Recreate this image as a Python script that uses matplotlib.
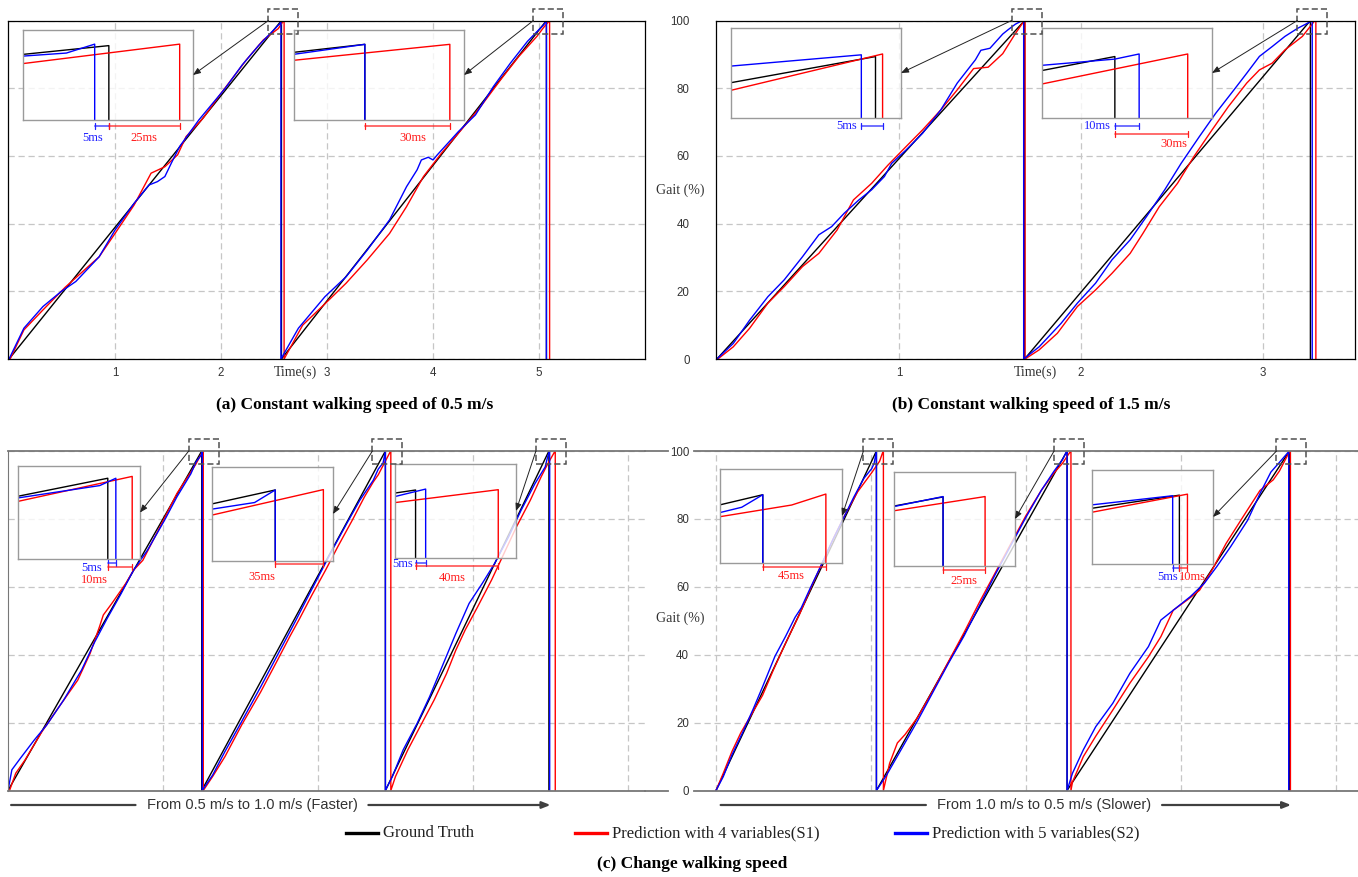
import matplotlib
matplotlib.use("Agg")
import matplotlib.pyplot as plt
from matplotlib.patches import Rectangle, FancyArrowPatch
from matplotlib.lines import Line2D
from matplotlib.transforms import IdentityTransform, blended_transform_factory, offset_copy

plt.rcParams['font.family'] = ['Liberation Sans', 'DejaVu Sans']
SERIF = ['Liberation Serif', 'DejaVu Serif']

# ---- data: time (s), gait (%) ----
# (a) constant 0.5 m/s
black_a_t = [0.0, 2.57, 2.57, 5.07, 5.07]
black_a_y = [0, 100, 0, 100, 0]
red_a_t = [0.01, 0.14, 0.32, 0.53, 0.85, 1.00, 1.18, 1.34, 1.47, 1.59, 1.67, 1.83, 2.00, 2.24, 2.40, 2.54, 2.595, 2.595,
           2.77, 3.00, 3.18, 3.38, 3.59, 3.75, 3.91, 4.08, 4.28, 4.45, 4.65, 4.81, 4.98, 5.045, 5.10, 5.10]
red_a_y = [0, 8.6, 14.5, 21.2, 30.2, 37.1, 45.5, 54.9, 56.8, 60.3, 65.7, 71.1, 78.5, 88.4, 94.3, 97.6, 100.2, 0,
           10.0, 16.9, 22.4, 29.3, 37.1, 45.0, 53.9, 60.8, 68.2, 74.6, 83.0, 89.4, 95.3, 98.0, 100.0, 0]
blue_a_t = [0.0, 0.14, 0.32, 0.49, 0.63, 0.85, 1.00, 1.18, 1.32, 1.40, 1.47, 1.53, 1.61, 1.79, 2.04, 2.20, 2.36, 2.54, 2.555, 2.565, 2.565,
            2.73, 2.98, 3.18, 3.38, 3.59, 3.75, 3.85, 3.89, 3.955, 4.00, 4.04, 4.24, 4.40, 4.57, 4.73, 4.89, 4.98, 5.045, 5.07, 5.07]
blue_a_y = [0, 9.1, 15.5, 19.9, 22.9, 30.2, 38.1, 46.0, 51.4, 52.4, 53.9, 57.8, 62.8, 70.6, 80.0, 86.9, 92.8, 98.6, 99.0, 100.2, 0,
            9.1, 18.4, 24.3, 32.2, 41.1, 50.9, 55.9, 58.8, 59.6, 58.8, 60.3, 67.2, 72.1, 80.5, 87.4, 93.8, 96.7, 98.75, 100.0, 0]

# (b) constant 1.5 m/s
black_b_t = [0.0, 1.69, 1.69, 3.26, 3.26]
black_b_y = [0, 100, 0, 100, 0]
red_b_t = [0.005, 0.09, 0.18, 0.28, 0.37, 0.47, 0.56, 0.66, 0.75, 0.85, 0.94, 1.04, 1.13, 1.23, 1.32, 1.41, 1.49, 1.57, 1.639, 1.6925, 1.6925,
           1.77, 1.87, 1.98, 2.08, 2.17, 2.27, 2.34, 2.43, 2.53, 2.62, 2.72, 2.81, 2.91, 2.98, 3.05, 3.12, 3.216, 3.23, 3.29, 3.29]
red_b_y = [0, 3.6, 9.1, 16.5, 21.4, 27.3, 31.2, 38.1, 47.0, 51.9, 57.3, 62.8, 67.7, 73.6, 79.5, 85.8, 86.2, 90.2, 96.1, 100.3, 0,
           2.7, 7.6, 15.5, 20.4, 25.3, 31.2, 37.1, 45.0, 51.9, 59.8, 67.7, 74.6, 81.5, 85.4, 87.4, 91.3, 95.3, 96.25, 100.35, 0]
blue_b_t = [0.0, 0.09, 0.18, 0.28, 0.37, 0.47, 0.56, 0.63, 0.70, 0.78, 0.85, 0.92, 0.96, 1.04, 1.13, 1.23, 1.32, 1.42, 1.45, 1.50, 1.57, 1.60, 1.639, 1.685, 1.685,
            1.77, 1.89, 1.98, 2.08, 2.17, 2.27, 2.36, 2.46, 2.55, 2.65, 2.74, 2.84, 2.91, 2.98, 3.05, 3.12, 3.19, 3.23, 3.26, 3.27, 3.27]
blue_b_y = [0, 4.6, 11.5, 18.4, 23.4, 30.2, 36.7, 39.1, 43.1, 47.0, 50.0, 53.9, 57.8, 61.8, 66.7, 73.6, 81.5, 88.4, 91.2, 91.8, 96.0, 97.3, 98.9, 100.2, 0,
            3.6, 10.5, 16.5, 22.4, 29.3, 35.2, 42.1, 50.0, 57.8, 65.7, 72.6, 79.5, 84.4, 89.4, 92.3, 95.3, 97.7, 98.8, 99.65, 100.35, 0]

# (c) left: 0.5 -> 1.0 m/s
black_c_t = [0.0, 1.25, 1.25, 2.435, 2.435, 3.49, 3.49]
black_c_y = [0, 100, 0, 100, 0, 100, 0]
red_c_t = [0.01, 0.05, 0.11, 0.22, 0.33, 0.45, 0.53, 0.59, 0.615, 0.67, 0.76, 0.81, 0.87, 0.98, 1.09, 1.18, 1.213, 1.26, 1.26,
           1.32, 1.40, 1.51, 1.63, 1.74, 1.82, 1.88, 1.96, 2.05, 2.13, 2.22, 2.30, 2.357, 2.389, 2.47, 2.47,
           2.50, 2.58, 2.67, 2.75, 2.83, 2.89, 2.95, 3.03, 3.12, 3.20, 3.28, 3.37, 3.44, 3.48, 3.531, 3.531]
red_c_y = [0, 5.1, 9.0, 17.4, 24.7, 32.5, 40.4, 48.2, 51.7, 55.1, 61.0, 64.9, 67.8, 77.6, 87.5, 93.8, 96.2, 100.3, 0,
           4.1, 10.0, 19.5, 29.0, 38.5, 45.5, 50.5, 57.5, 65.0, 72.0, 79.5, 86.5, 90.9, 93.0, 100.1, 0,
           4.1, 12.0, 19.8, 26.7, 34.5, 41.4, 47.3, 54.1, 62.0, 69.8, 77.6, 85.5, 92.4, 96.0, 100.1, 0]
blue_c_t = [0.0, 0.025, 0.08, 0.17, 0.25, 0.36, 0.475, 0.56, 0.64, 0.73, 0.81, 0.90, 1.01, 1.09, 1.18, 1.213, 1.2467, 1.2533, 1.2533,
            1.32, 1.40, 1.51, 1.63, 1.74, 1.85, 1.94, 2.02, 2.10, 2.19, 2.27, 2.357, 2.389, 2.42, 2.435, 2.435,
            2.48, 2.55, 2.64, 2.72, 2.81, 2.89, 2.975, 3.06, 3.14, 3.23, 3.31, 3.40, 3.466, 3.48, 3.495, 3.495]
blue_c_y = [0, 6.1, 9.5, 14.9, 19.3, 26.7, 35.5, 43.8, 50.7, 58.0, 64.9, 70.8, 79.6, 86.5, 93.3, 96.77, 98.8, 100.0, 0,
            4.5, 11.5, 20.5, 30.5, 40.0, 49.5, 57.5, 64.5, 71.5, 79.0, 85.5, 91.4, 94.66, 96.5, 100.0, 0,
            4.1, 12.0, 19.8, 27.6, 37.5, 46.3, 55.1, 61.0, 66.9, 74.7, 82.5, 90.4, 95.3, 97.95, 100.3, 0]

# (c) right: 1.0 -> 0.5 m/s
black_d_t = [0.0, 1.035, 1.035, 2.265, 2.265, 3.70, 3.70]
black_d_y = [0, 100, 0, 100, 0, 100, 0]
red_d_t = [0.0, 0.047, 0.103, 0.16, 0.23, 0.30, 0.37, 0.45, 0.54, 0.62, 0.69, 0.76, 0.83, 0.914, 1.0045, 1.0556, 1.08, 1.08,
           1.12, 1.17, 1.22, 1.30, 1.40, 1.50, 1.60, 1.70, 1.80, 1.90, 2.00, 2.10, 2.18, 2.2358, 2.29, 2.29,
           2.30, 2.37, 2.45, 2.56, 2.67, 2.79, 2.87, 2.95, 3.04, 3.12, 3.20, 3.29, 3.40, 3.51, 3.595, 3.635, 3.706, 3.706]
red_d_y = [0, 5.1, 11.5, 17.0, 22.5, 28.0, 35.5, 43.5, 52.0, 60.5, 67.5, 74.5, 81.0, 88.0, 93.6, 97.0, 100.2, 0,
           8.0, 14.0, 16.5, 21.5, 29.5, 38.0, 46.5, 55.5, 64.0, 72.5, 81.0, 88.5, 93.5, 96.4, 100.1, 0,
           2.5, 10.0, 16.0, 23.7, 31.6, 39.4, 45.3, 53.1, 56.1, 59.0, 64.9, 72.7, 80.6, 88.4, 91.5, 94.1, 100.35, 0]
blue_d_t = [0.0, 0.047, 0.103, 0.17, 0.24, 0.30, 0.34, 0.38, 0.45, 0.51, 0.55, 0.61, 0.68, 0.75, 0.82, 0.89, 0.955, 1.0045, 1.02, 1.035, 1.035,
            1.10, 1.20, 1.30, 1.40, 1.50, 1.60, 1.70, 1.80, 1.90, 2.00, 2.10, 2.18, 2.2358, 2.265, 2.265,
            2.30, 2.37, 2.45, 2.56, 2.67, 2.79, 2.87, 2.95, 3.06, 3.15, 3.23, 3.32, 3.43, 3.51, 3.58, 3.635, 3.695, 3.695]
blue_d_y = [0, 4.1, 10.5, 16.9, 24.0, 30.5, 35.0, 39.5, 45.5, 51.0, 53.8, 59.8, 66.5, 73.5, 80.0, 86.5, 92.0, 94.8, 96.35, 100, 0,
            4.5, 12.5, 20.5, 29.0, 37.5, 45.5, 54.5, 63.5, 72.0, 80.5, 88.5, 94.0, 97.5, 100.1, 0,
            5.1, 12.0, 18.8, 25.7, 34.5, 42.4, 50.2, 53.1, 57.1, 61.0, 65.9, 71.8, 79.6, 87.5, 93.8, 96.65, 99.8, 0]

legend_labels = ['Ground Truth', 'Prediction with 4 variables(S1)', 'Prediction with 5 variables(S2)']
titles = ['(a) Constant walking speed of 0.5 m/s', '(b) Constant walking speed of 1.5 m/s', '(c) Change walking speed']
speed_notes = ['From 0.5 m/s to 1.0 m/s (Faster)', 'From 1.0 m/s to 0.5 m/s (Slower)']
y_ticks = [0, 20, 40, 60, 80, 100]

panels = {
    'a': {'black': (black_a_t, black_a_y), 'red': (red_a_t, red_a_y), 'blue': (blue_a_t, blue_a_y)},
    'b': {'black': (black_b_t, black_b_y), 'red': (red_b_t, red_b_y), 'blue': (blue_b_t, blue_b_y)},
    'c': {'black': (black_c_t, black_c_y), 'red': (red_c_t, red_c_y), 'blue': (blue_c_t, blue_c_y)},
    'd': {'black': (black_d_t, black_d_y), 'red': (red_d_t, red_d_y), 'blue': (blue_d_t, blue_d_y)},
}

COLORS = {'black': '#000000', 'red': '#ff0000', 'blue': '#0000ff'}
ORDER = ['black', 'red', 'blue']

W, H = 1358, 877
fig = plt.figure(figsize=(W / 100, H / 100), dpi=100)


def box(left, top, w, h):
    # pixel box (from top-left) -> figure fraction
    return [left / W, 1 - (top + h) / H, w / W, h / H]


def drops(t, y):
    # times where a series falls from its peak back to 0
    return [t[i] for i in range(len(t) - 1) if y[i] > 50 and y[i + 1] == 0]


def draw_series(ax, series):
    for name in ORDER:
        t, y = series[name]
        ax.plot(t, y, color=COLORS[name], lw=1.0)


main_pos = {'a': (8, 20.5, 637, 338.5), 'b': (716, 20.5, 639, 338.5),
            'c': (8, 451, 637, 339.5), 'd': (694, 451, 664, 339.5)}
main_xlim = {'a': (-0.01, 6.0), 'b': (-0.005, 3.505), 'c': (0, 4.11), 'd': (-0.142, 4.142)}
main_xgrid = {'a': [1, 2, 3, 4, 5], 'b': [1, 2, 3], 'c': [1, 2, 3, 4], 'd': [0, 1, 2, 3, 4]}

axes = {}
for key in 'abcd':
    ax = fig.add_axes(box(*main_pos[key]))
    ax.set_xlim(main_xlim[key])
    ax.set_ylim(0, 100)
    ax.set_xticks(main_xgrid[key])
    ax.set_yticks(y_ticks)
    ax.grid(True, color='#c6c6c6', lw=0.9, ls=(0, (5, 3)))
    ax.set_axisbelow(True)
    ax.tick_params(length=0, labelsize=8.3, labelcolor='#333333')
    draw_series(ax, panels[key])
    axes[key] = ax

axes['a'].tick_params(labelleft=False, pad=6)
axes['b'].tick_params(axis='x', pad=6)
axes['b'].tick_params(axis='y', pad=19)
axes['c'].tick_params(labelleft=False, labelbottom=False)
axes['d'].tick_params(labelbottom=False)
axes['d'].tick_params(axis='y', pad=3.5)

for key in 'ab':
    for s in axes[key].spines.values():
        s.set_linewidth(0.9)
for key in 'cd':
    sp = axes[key].spines
    sp['top'].set_color('#777777'); sp['top'].set_linewidth(1.3)
    sp['bottom'].set_color('#777777'); sp['bottom'].set_linewidth(1.3)
    sp['right'].set_visible(False)
axes['c'].spines['left'].set_color('#777777')
axes['d'].spines['left'].set_visible(False)
# top and bottom rules of (c) run on towards the shared tick column
for yy in (451, 790.5):
    fig.add_artist(Line2D([645 / W, 668 / W], [1 - yy / H] * 2, color='#777777', lw=1.3))

# ---- zoomed insets: panel, cycle, pixel box, window before/after the GT drop (s), y range ----
inset_specs = [
    ('a', 0, (23, 30, 170, 90), 0.0303, 0.0297, 90.0, 102.1),
    ('a', 1, (294, 30, 170, 90), 0.025, 0.035, 90.5, 101.8),
    ('b', 0, (731, 28, 170, 90), 0.051, 0.009, 92.9, 103.3),
    ('b', 1, (1042, 28, 170, 90), 0.030, 0.040, 91.6, 103.9),
    ('c', 0, (18, 466, 122, 93), 0.0368, 0.0132, 86.8, 102.0),
    ('c', 1, (212, 467, 121, 94), 0.046, 0.042, 80.2, 106.4),
    ('c', 2, (395, 464, 121, 94), 0.0102, 0.0498, 78.3, 108.3),
    ('d', 0, (720, 469, 122, 94), 0.0305, 0.0565, 80.1, 107.5),
    ('d', 1, (894, 472, 121, 94), 0.0292, 0.0428, 82.0, 106.5),
    ('d', 2, (1092, 470, 121, 94), 0.065, 0.025, 76.2, 108.7),
]
# delay marks: colour, from series, to series, line offset px, label, anchor, ha, text dx px, text dy px
inset_marks = [
    [('blue', 'blue', 'black', 6, '5ms', 'mid', 'center', -9, 12),
     ('red', 'black', 'red', 6, '25ms', 'mid', 'center', 0, 12)],
    [('red', 'black', 'red', 6, '30ms', 'mid', 'center', 6, 12)],
    [('blue', 'blue', 'red', 8, '5ms', 'start', 'right', -4, 0)],
    [('blue', 'black', 'blue', 8, '10ms', 'start', 'right', -4, 0),
     ('red', 'black', 'red', 16, '30ms', 'end', 'right', 0, 10)],
    [('blue', 'black', 'blue', 4, '5ms', 'start', 'right', -6, 5),
     ('red', 'black', 'red', 8, '10ms', 'start', 'right', 0, 13)],
    [('red', 'black', 'red', 3, '35ms', 'start', 'right', 0, 13)],
    [('blue', 'black', 'blue', 5, '5ms', 'start', 'right', -3, 1),
     ('red', 'black', 'red', 8, '40ms', 'mid', 'center', -5, 12)],
    [('red', 'black', 'red', 4, '45ms', 'mid', 'center', -3, 9)],
    [('red', 'black', 'red', 4, '25ms', 'mid', 'center', 0, 11)],
    [('blue', 'blue', 'black', 4, '5ms', 'end', 'right', -1, 9),
     ('red', 'black', 'red', 4, '10ms', 'start', 'left', 0, 9)],
]
mark_colors = {'blue': '#2020ff', 'red': '#ff1a1a'}

for (key, cyc, pos, before, after, ylo, yhi), marks in zip(inset_specs, inset_marks):
    ax = axes[key]
    series = panels[key]
    ends = {n: drops(*series[n]) for n in ORDER}
    tp = ends['black'][cyc]

    axin = fig.add_axes(box(*pos))
    axin.patch.set_facecolor('white')
    axin.patch.set_alpha(0.8)
    draw_series(axin, series)
    axin.set_xlim(tp - before, tp + after)
    axin.set_ylim(ylo, yhi)
    axin.set_xticks([])
    axin.set_yticks([])
    for s in axin.spines.values():
        s.set_color('#9a9a9a')
        s.set_linewidth(1.0)

    # dashed marker box at the peak and the pointer towards the inset
    px, py = ax.transData.transform((tp, 100))
    fig.add_artist(Rectangle((px - 13, py - 13), 30, 25, transform=IdentityTransform(),
                             fill=False, ec='#505050', lw=1.1, ls=(0, (4, 2))))
    tx, ty = axin.transAxes.transform((1, 0.5))
    fig.add_artist(FancyArrowPatch((px - 13, py), (tx, ty), transform=IdentityTransform(),
                                   arrowstyle='-|>,head_length=0.45,head_width=0.18', mutation_scale=10,
                                   color='#222222', lw=0.7, shrinkA=0, shrinkB=0))

    trans = blended_transform_factory(axin.transData, axin.transAxes)
    h_px = pos[3]
    for color, s0, s1, ldy, label, anchor, ha, tdx, tdy in marks:
        t0, t1 = ends[s0][cyc], ends[s1][cyc]
        yl = -ldy / h_px
        c = mark_colors[color]
        axin.annotate('', xy=(t1, yl), xytext=(t0, yl), xycoords=trans, textcoords=trans,
                      arrowprops=dict(arrowstyle='|-|,widthA=0.25,widthB=0.25', color=c, lw=0.9,
                                      shrinkA=0, shrinkB=0),
                      annotation_clip=False)
        xa = {'start': min(t0, t1), 'mid': (t0 + t1) / 2, 'end': max(t0, t1)}[anchor]
        tr = offset_copy(trans, fig=fig, x=tdx, y=-tdy, units='dots')
        axin.text(xa, yl, label, transform=tr, ha=ha, va='center', color=c, fontsize=9,
                  family=SERIF, clip_on=False)

# ---- axis words ----
for x in (295, 1035):
    fig.text(x / W, 1 - 372 / H, 'Time(s)', ha='center', va='center', fontsize=10, family=SERIF, color='#333333')
for y in (190, 618):
    fig.text(680 / W, 1 - y / H, 'Gait (%)', ha='center', va='center', fontsize=10, family=SERIF, color='#333333')

# ---- speed-change arrows under the lower panels ----
fig.canvas.draw()
renderer = fig.canvas.get_renderer()
arrow_specs = [('c', 0.02, 3.50, 1.574, speed_notes[0]), ('d', 0.03, 3.71, 2.116, speed_notes[1])]
for key, xs, xe, xc, note in arrow_specs:
    ax = axes[key]
    tr = blended_transform_factory(ax.transData, ax.transAxes)
    ya = -14.5 / 339.5
    txt = ax.text(xc, ya, note, transform=tr, ha='center', va='center', fontsize=10.5,
                  color='#333333', clip_on=False)
    bb = txt.get_window_extent(renderer=renderer)
    inv = ax.transData.inverted()
    xl = inv.transform((bb.x0 - 11, 0))[0]
    xr = inv.transform((bb.x1 + 11, 0))[0]
    ax.annotate('', xy=(xl, ya), xytext=(xs, ya), xycoords=tr, textcoords=tr,
                arrowprops=dict(arrowstyle='-', color='#404040', lw=1.6, shrinkA=0, shrinkB=0),
                annotation_clip=False)
    ax.annotate('', xy=(xe, ya), xytext=(xr, ya), xycoords=tr, textcoords=tr,
                arrowprops=dict(arrowstyle='-|>,head_length=0.5,head_width=0.2', color='#404040', lw=1.6,
                                shrinkA=0, shrinkB=0),
                annotation_clip=False)

# ---- legend ----
for name, label, x0 in zip(ORDER, legend_labels, (346, 575, 895)):
    yy = 1 - 833 / H
    fig.add_artist(Line2D([x0 / W, (x0 + 32) / W], [yy, yy], color=COLORS[name], lw=2.4))
    fig.text((x0 + 37) / W, yy, label, ha='left', va='center', fontsize=12, family=SERIF, color='#222222')

# ---- panel captions ----
for (x, y), title in zip([(355, 405), (1031, 405), (692, 864)], titles):
    fig.text(x / W, 1 - y / H, title, ha='center', va='center', fontsize=12.5, fontweight='bold', family=SERIF)

fig.savefig('out.png', dpi=100, facecolor='white')
